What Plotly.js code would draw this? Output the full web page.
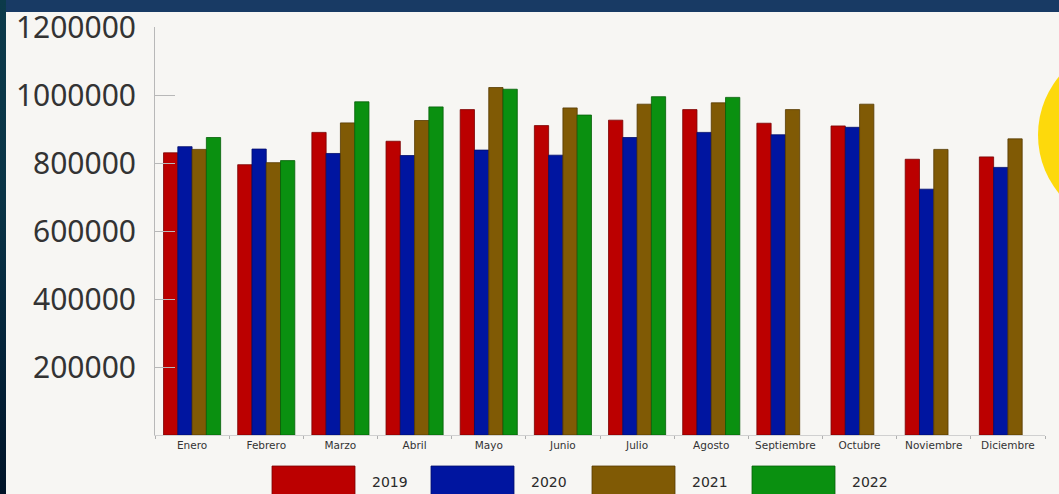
<!DOCTYPE html>
<html>
<head>
<meta charset="utf-8">
<script src="https://cdn.plot.ly/plotly-3.0.1.min.js"></script>
<style>
html,body{margin:0;padding:0;overflow:hidden;background:linear-gradient(to bottom,#0c3a4a 0%,#0a3446 40%,#04243a 70%,#011428 100%);}
#chart{width:1059px;height:494px;}
</style>
</head>
<body>
<div id="chart"></div>
<script>
const months = ["Enero","Febrero","Marzo","Abril","Mayo","Junio","Julio","Agosto","Septiembre","Octubre","Noviembre","Diciembre"];
const years = ["2019","2020","2021","2022"];
const v2019 = [830000, 795000, 890000, 864000, 957000, 910000, 926000, 957000, 917000, 909000, 811000, 818000];
const v2020 = [848000, 841000, 828000, 822000, 838000, 823000, 875000, 890000, 883000, 905000, 723000, 787000];
const v2021 = [840000, 801000, 918000, 925000, 1022000, 962000, 973000, 977000, 957000, 973000, 840000, 871000];
const v2022 = [875000, 807000, 980000, 965000, 1017000, 941000, 995000, 993000, null, null, null, null];
const yTicks = [200000, 400000, 600000, 800000, 1000000, 1200000];

const colors = ["#bb0000", "#0015a0", "#805a05", "#0a9010"];
const lineColors = ["#7a0000", "#000c6a", "#553a00", "#056008"];
const series = [v2019, v2020, v2021, v2022];

const W = 1059, H = 494;
const L = 155, R = 14, T = 27, B = 59;
const pw = W - L - R, ph = H - T - B;
const px = x => (x - L) / pw;
const py = y => (H - B - y) / ph;

const traces = series.map((vals, i) => ({
  type: "bar",
  name: years[i],
  x: months,
  y: vals,
  marker: {color: colors[i], line: {color: lineColors[i], width: 0.8}},
  showlegend: false,
  hoverinfo: "x+y+name"
}));

const shapes = [
  // top navy strip
  {type: "rect", xref: "paper", yref: "paper", layer: "below",
   x0: px(6), x1: px(W + 5), y0: py(12), y1: py(-5),
   fillcolor: "#183a64", line: {width: 0}},
  // white panel
  {type: "rect", xref: "paper", yref: "paper", layer: "below",
   x0: px(6), x1: px(W + 5), y0: py(H + 5), y1: py(12),
   fillcolor: "#f7f6f3", line: {width: 0}},
  // yellow circle at right
  {type: "circle", xref: "paper", yref: "paper", layer: "above",
   x0: px(1038), x1: px(1222), y0: py(227), y1: py(43),
   fillcolor: "#fdd90c", line: {width: 0}}
];
const annotations = [];
const legX = [272, 431, 592, 752];
legX.forEach((lx, i) => {
  shapes.push({type: "rect", xref: "paper", yref: "paper", layer: "above",
    x0: px(lx), x1: px(lx + 83), y0: py(H + 10), y1: py(466),
    fillcolor: colors[i], line: {color: lineColors[i], width: 0.8}});
  annotations.push({xref: "paper", yref: "paper", x: px(lx + 98), y: py(482),
    xanchor: "left", yanchor: "middle", showarrow: false, text: years[i],
    font: {family: "DejaVu Sans", size: 14, color: "#2a2a2a"}});
});

const layout = {
  width: W, height: H,
  margin: {l: L, r: R, t: T, b: B, pad: 0},
  paper_bgcolor: "rgba(0,0,0,0)",
  plot_bgcolor: "rgba(0,0,0,0)",
  barmode: "group",
  bargap: 0.23,
  bargroupgap: 0,
  xaxis: {
    type: "category",
    showgrid: false,
    showline: true, linecolor: "#d0d0d0", linewidth: 1,
    ticks: "outside", tickson: "boundaries", ticklen: 3, tickcolor: "#b0b0b0",
    tickfont: {family: "DejaVu Sans", size: 10.5, color: "#333"},
    zeroline: false, fixedrange: true
  },
  yaxis: {
    range: [0, 1200000],
    tickvals: yTicks,
    ticktext: yTicks.map(String),
    showgrid: false,
    showline: true, linecolor: "#b8b8b8", linewidth: 1,
    ticks: "inside", ticklen: 20, tickcolor: "#b8b8b8",
    ticklabelstandoff: 12,
    tickfont: {family: "Noto Sans", size: 30, color: "#333333"},
    zeroline: false, fixedrange: true
  },
  shapes: shapes,
  annotations: annotations,
  showlegend: false
};

Plotly.newPlot("chart", traces, layout, {displayModeBar: false, staticPlot: true});
</script>
</body>
</html>
